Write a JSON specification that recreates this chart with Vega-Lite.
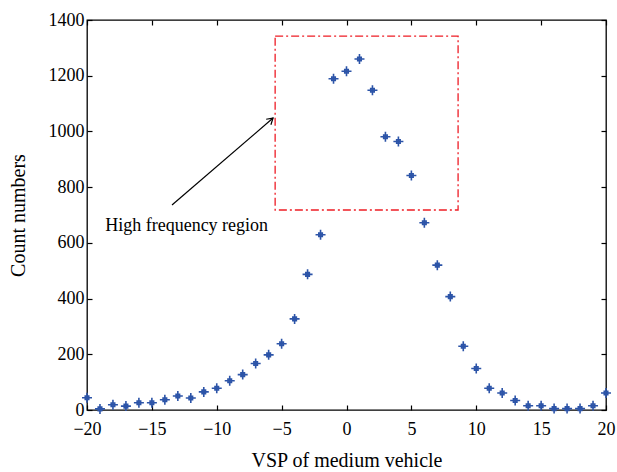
{
  "$schema": "https://vega.github.io/schema/vega-lite/v6.json",
  "width": 519,
  "height": 390,
  "autosize": "none",
  "padding": {"left": 87, "top": 20, "right": 11, "bottom": 62},
  "background": "white",
  "config": {
    "view": {"stroke": "black", "strokeWidth": 1.3},
    "font": "Liberation Serif",
    "axis": {
      "labelFont": "Liberation Serif",
      "titleFont": "Liberation Serif",
      "labelFontSize": 18,
      "titleFontSize": 20,
      "titleFontWeight": "normal",
      "labelColor": "black",
      "titleColor": "black",
      "grid": false,
      "domain": false,
      "tickColor": "black",
      "tickWidth": 1.2,
      "tickSize": -5,
      "labelFlush": false
    }
  },
  "datasets": {
    "counts": [
      {"vsp": -20, "count": 44}, {"vsp": -19, "count": 4}, {"vsp": -18, "count": 19},
      {"vsp": -17, "count": 14}, {"vsp": -16, "count": 26}, {"vsp": -15, "count": 26},
      {"vsp": -14, "count": 37}, {"vsp": -13, "count": 50}, {"vsp": -12, "count": 43},
      {"vsp": -11, "count": 65}, {"vsp": -10, "count": 78}, {"vsp": -9, "count": 105},
      {"vsp": -8, "count": 127}, {"vsp": -7, "count": 167}, {"vsp": -6, "count": 198},
      {"vsp": -5, "count": 238}, {"vsp": -4, "count": 327}, {"vsp": -3, "count": 487},
      {"vsp": -2, "count": 629}, {"vsp": -1, "count": 1189}, {"vsp": 0, "count": 1216},
      {"vsp": 1, "count": 1260}, {"vsp": 2, "count": 1148}, {"vsp": 3, "count": 981},
      {"vsp": 4, "count": 964}, {"vsp": 5, "count": 842}, {"vsp": 6, "count": 672},
      {"vsp": 7, "count": 520}, {"vsp": 8, "count": 407}, {"vsp": 9, "count": 229},
      {"vsp": 10, "count": 149}, {"vsp": 11, "count": 78}, {"vsp": 12, "count": 61},
      {"vsp": 13, "count": 34}, {"vsp": 14, "count": 15}, {"vsp": 15, "count": 15},
      {"vsp": 16, "count": 5}, {"vsp": 17, "count": 5}, {"vsp": 18, "count": 5},
      {"vsp": 19, "count": 15}, {"vsp": 20, "count": 61}
    ],
    "box": [{"x1": -5.5, "x2": 8.6, "y1": 718, "y2": 1342}],
    "arrow": [{"x1": -13.45, "y1": 736, "x2": -5.66, "y2": 1048}],
    "label": [{"x": -18.6, "y": 660, "text": "High frequency region"}]
  },
  "layer": [
    {
      "data": {"name": "counts"},
      "mark": {
        "type": "point",
        "shape": "M-1,0H1M0,-1V1M-0.35,-0.35H0.35V0.35H-0.35Z",
        "filled": false,
        "color": "#2c54a8",
        "strokeWidth": 1.6,
        "size": 100,
        "opacity": 1
      },
      "encoding": {
        "x": {
          "field": "vsp", "type": "quantitative",
          "scale": {"domain": [-20, 20], "nice": false, "zero": false},
          "axis": {"orient": "bottom", "values": [-20, -15, -10, -5, 0, 5, 10, 15, 20], "labelPadding": 15, "title": "VSP of medium vehicle", "titlePadding": 12, "labelExpr": "replace(datum.label, '-', '\u2212')"}
        },
        "y": {
          "field": "count", "type": "quantitative",
          "scale": {"domain": [0, 1400], "nice": false},
          "axis": {"orient": "left", "values": [0, 200, 400, 600, 800, 1000, 1200, 1400], "labelPadding": 8, "title": "Count numbers", "titlePadding": 20, "format": "d"}
        }
      }
    },
    {
      "data": {"name": "counts"},
      "mark": {"type": "point", "opacity": 0},
      "encoding": {
        "x": {"field": "vsp", "type": "quantitative", "axis": {"orient": "top", "values": [-20, -15, -10, -5, 0, 5, 10, 15, 20], "labels": false, "title": null}},
        "y": {"field": "count", "type": "quantitative", "axis": {"orient": "right", "values": [0, 200, 400, 600, 800, 1000, 1200, 1400], "labels": false, "title": null}}
      }
    },
    {
      "data": {"name": "box"},
      "mark": {"type": "rect", "fill": null, "fillOpacity": 0, "stroke": "#ee1c25", "strokeWidth": 1.3, "strokeDash": [8, 3, 2, 3]},
      "encoding": {
        "x": {"field": "x1", "type": "quantitative", "axis": null},
        "x2": {"field": "x2"},
        "y": {"field": "y1", "type": "quantitative", "axis": null},
        "y2": {"field": "y2"}
      }
    },
    {
      "data": {"name": "arrow"},
      "mark": {"type": "rule", "color": "black", "strokeWidth": 1.2},
      "encoding": {
        "x": {"field": "x1", "type": "quantitative", "axis": null},
        "x2": {"field": "x2"},
        "y": {"field": "y1", "type": "quantitative", "axis": null},
        "y2": {"field": "y2"}
      }
    },
    {
      "data": {"name": "arrow"},
      "mark": {"type": "point", "shape": "M-0.6,1L0,0L0.6,1", "filled": false, "color": "black", "strokeWidth": 1.2, "size": 144, "angle": 49, "opacity": 1},
      "encoding": {
        "x": {"field": "x2", "type": "quantitative", "axis": null},
        "y": {"field": "y2", "type": "quantitative", "axis": null}
      }
    },
    {
      "data": {"name": "label"},
      "mark": {"type": "text", "align": "left", "baseline": "middle", "fontSize": 18, "font": "Liberation Serif", "color": "black"},
      "encoding": {
        "x": {"field": "x", "type": "quantitative", "axis": null},
        "y": {"field": "y", "type": "quantitative", "axis": null},
        "text": {"field": "text"}
      }
    }
  ],
  "resolve": {"axis": {"x": "independent", "y": "independent"}}
}
